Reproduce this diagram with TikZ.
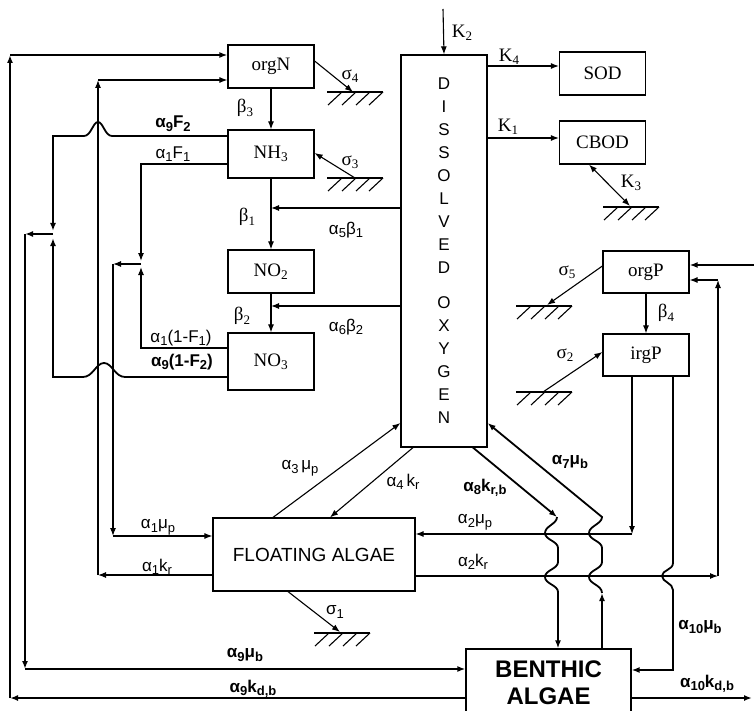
\documentclass[tikz,border=0pt]{standalone}
\usepackage{fontspec}
\setmainfont{Liberation Sans}
\newfontfamily\boxfont{Liberation Serif}
\usetikzlibrary{arrows.meta}
\newcommand\lsub[1]{\raisebox{-0.4ex}{\fontsize{13}{13}\selectfont #1}}
\tikzset{
  box/.style={draw, line width=1.2pt, inner sep=0pt, minimum width=86pt, minimum height=#1, font=\boxfont\fontsize{19}{21}\selectfont},
  lab/.style={inner sep=0pt, font=\fontsize{17}{19}\selectfont},
  labb/.style={inner sep=0pt, font=\fontsize{17}{19}\selectfont\bfseries},
  labs/.style={inner sep=0pt, font=\boxfont\fontsize{19}{21}\selectfont},
  heavy/.style={line width=1.8pt},
  ground/.pic={\draw (-28,0) -- (28,0); \foreach \h in {-13,1,15,28} \draw (\h,0) -- ++(-14,13);}
}
\begin{document}
\begin{tikzpicture}[x=1pt, y=-1pt, line width=1.1pt, >={Latex[length=8pt,width=6pt]}]
    \useasboundingbox (0,0) rectangle (754,711);
    \clip (0,0) rectangle (754,711);
    \foreach \n/\x/\y/\h/\t in {orgN/271/66.5/43/orgN, NH3/271/154/48/NH\textsubscript{3}, NO2/271/271.5/43/NO\textsubscript{2}, NO3/271/361.5/57/NO\textsubscript{3}, SOD/602.5/73.5/43/SOD, CBOD/602.5/142.5/43/CBOD, orgP/646/272/42/orgP, irgP/646/355/42/irgP}
        \node[box=\h pt] (\n) at (\x,\y) {\t};
    \node[draw, line width=1.2pt, minimum width=86pt, minimum height=392pt, inner sep=0pt, align=center, font=\fontsize{17}{23}\selectfont] (DO) at (444,251) {D\\I\\S\\S\\O\\L\\V\\E\\D\\[12pt]O\\X\\Y\\G\\E\\N};
    \node[draw, line width=1.2pt, minimum width=202pt, minimum height=73pt, inner sep=0pt, font=\fontsize{19}{21}\selectfont] (FA) at (314,554.5) {FLOATING ALGAE};
    \node[draw, line width=1.2pt, minimum width=165pt, minimum height=68pt, inner sep=0pt, align=center, font=\fontsize{24}{27}\selectfont\bfseries] (BA) at (548.5,683) {BENTHIC\\ALGAE};

    \foreach \n/\x/\y in {oL1/10/698, oL2/10/55, aL1/25/234, aL2/25/669, j9/53/234, j9a/53/231, j9b/53/238, j1/141/264, j1a/141/261, j1b/141/267, bL1/113/264, bL2/113/536, cL1/98/575, cL2/98/80, r1/632/534, r2/718/576, r3/718/280, r4/673/670, w8/557/517, w7/602/517, w7b/602/593, in1/754/265, out1/752/698, k2/443/9, g4/353/92, g3/355/178, gK3/630/206, g5/547/305, g2/543/392, g1/340/632}
        \coordinate (\n) at (\x,\y);
    \foreach \x/\y in {355/92, 355/178, 631/207, 544/306, 544/392, 342/633}
        \pic at (\x,\y) {ground};

    \draw[->] (orgN) -- (NH3);
    \draw[->] (NH3) -- (NO2);
    \draw[->] (NO2) -- (NO3);
    \draw[->] (orgP) -- (irgP);
    \draw[->] (DO.west |- 0,208) -- (NH3.south |- 0,208);
    \draw[->] (DO.west |- 0,306) -- (NO2.south |- 0,306);
    \draw[->] (orgN.east |- 0,61) -- (g4);
    \draw[->] (g3) -- (NH3.east |- 0,153);
    \draw[->] (k2) -- (DO.north);
    \draw[->] (DO.east |- 0,66) -- (SOD.west |- 0,66);
    \draw[->] (DO.east |- 0,138) -- (CBOD.west |- 0,138);
    \draw[<->] (CBOD.south -| 589,0) -- (gK3);
    \draw[->] (orgP.west |- 0,266) -- (g5);
    \draw[->] (g2) -- (irgP.west |- 0,352);
    \draw[->, heavy] (in1) -- (orgP.east |- in1);
    \draw[->] (FA.east |- r2) -- (r2);
    \draw[->] (r2) -- (r3);
    \draw[->] (r3) -- (orgP.east |- r3);
    \draw[->] (irgP.south -| r1) -- (r1);
    \draw[->] (r1) -- (FA.east |- r1);
    \draw[->] (FA.north -| 273,0) -- (DO.west |- 0,423);
    \draw[->] (DO.south -| 413,0) -- (FA.north -| 330,0);
    \draw[->] (FA.south -| 288,0) -- (g1);

    \draw[->, heavy] (DO.south -| 473,0) -- (w8);
    \draw[->, heavy] (w8) .. controls (557,524) and (545,526) .. (545,533) .. controls (545,540) and (558,541) .. (558,548) -- (558,562) .. controls (558,569) and (545,570) .. (545,577) .. controls (545,584) and (558,585) .. (558,592) -- (BA.north -| 558,0);
    \draw[->, heavy] (BA.north -| w7b) -- (w7b);
    \draw[->, heavy] (w7b) .. controls (602,585) and (589,584) .. (589,577) .. controls (589,570) and (602,569) .. (602,562) -- (602,548) .. controls (602,541) and (589,540) .. (589,533) .. controls (589,526) and (602,524) .. (w7) -- (DO.east |- 0,423);
    \draw[->, heavy] (irgP.south -| r4) -- (673,563) .. controls (673,570) and (662,570) .. (662,576) .. controls (662,582) and (673,583) .. (673,590) -- (r4) -- (BA.east |- r4);
    \draw[->, heavy] (BA.east |- out1) -- (out1);

    \draw[->, heavy] (BA.west |- oL1) -- (oL1);
    \draw[->, heavy] (oL1) -- (oL2);
    \draw[->, heavy] (oL2) -- (orgN.west |- oL2);
    \draw[->, heavy] (j9) -- (aL1);
    \draw[->, heavy] (aL1) -- (aL2);
    \draw[->, heavy] (aL2) -- (BA.west |- aL2);
    \draw[->, heavy] (NH3.west |- 0,136) -- (112,136) .. controls (105,136) and (103,122) .. (98,122) .. controls (93,122) and (91,136) .. (84,136) -- (53,136) -- (j9a);
    \draw[->, heavy] (NO3.west |- 0,377) -- (125,377) .. controls (115,377) and (112,363) .. (104,363) .. controls (96,363) and (93,377) .. (83,377) -- (53,377) -- (j9b);
    \draw[->] (NH3.west |- 0,164) -- (141,164) -- (j1a);
    \draw[->] (NO3.west |- 0,348) -- (141,348) -- (j1b);
    \draw[->] (j1) -- (bL1);
    \draw[->] (bL1) -- (bL2);
    \draw[->] (bL2) -- (FA.west |- bL2);
    \draw[->] (FA.west |- cL1) -- (cL1);
    \draw[->] (cL1) -- (cL2);
    \draw[->] (cL2) -- (orgN.west |- cL2);

    \foreach [count=\i] \x/\y/\t in {245/108/β\lsub{3}, 247/217/β\lsub{1}, 242/316/β\lsub{2}, 350/76/σ\lsub{4}, 350/162/σ\lsub{3}, 462/33/K\lsub{2}, 509/57/K\lsub{4}, 508/127/K\lsub{1}, 631/183/K\lsub{3}, 567/272/σ\lsub{5}, 565/355/σ\lsub{2}, 666/313/β\lsub{4}}
        \node[labs] (ls\i) at (\x,\y) {\t};
    \foreach [count=\i] \x/\y/\t in {346/230/α\lsub{5}β\lsub{1}, 346/327/α\lsub{6}β\lsub{2}, 173/154/α\lsub{1}F\lsub{1}, 181/338/α\lsub{1}(1-F\lsub{1}), 300/468/α\lsub{3}\,μ\lsub{p}, 403/482/α\lsub{4}\,k\lsub{r}, 475/522/α\lsub{2}μ\lsub{p}, 473/562/α\lsub{2}k\lsub{r}, 158/527/α\lsub{1}μ\lsub{p}, 157/567/α\lsub{1}k\lsub{r}, 335/612/σ\lsub{1}}
        \node[lab] (la\i) at (\x,\y) {\t};
    \foreach [count=\i] \x/\y/\t in {173/124/α\lsub{9}F\lsub{2}, 182/362/α\lsub{9}(1-F\lsub{2}), 485/488/α\lsub{8}k\lsub{r,b}, 570/462/α\lsub{7}μ\lsub{b}, 245/655/α\lsub{9}μ\lsub{b}, 253/689/α\lsub{9}k\lsub{d,b}, 700/627/α\lsub{10}μ\lsub{b}, 707/684/α\lsub{10}k\lsub{d,b}}
        \node[labb] (lb\i) at (\x,\y) {\t};
\end{tikzpicture}
\end{document}
